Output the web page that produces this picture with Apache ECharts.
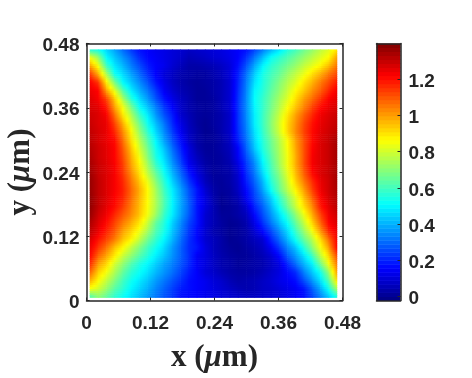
<!DOCTYPE html>
<html>
<head>
    <meta charset="utf-8">
    <title>ECharts</title>
    <script src="https://cdn.jsdelivr.net/npm/echarts@6/dist/echarts.min.js"></script>
    <style>html, body { margin: 0; background: #fff; }</style>
</head>
<body>
<div id="main" style="width: 472px;height:378px;"></div>
<script type="text/javascript">
    const xTicks = [0, 0.12, 0.24, 0.36, 0.48];
    const yTicks = [0, 0.12, 0.24, 0.36, 0.48];
    const barTicks = [0, 0.2, 0.4, 0.6, 0.8, 1, 1.2];
    const barMin = -0.025;
    const barMax = 1.4;
    const barLevels = 64;
    const jetStops = ['#000080', '#0000ff', '#0080ff', '#00ffff', '#80ff80', '#ffff00', '#ff8000', '#ff0000', '#800000'];
    // field, top row first, left to right
    const fieldMin = 0.006;
    const fieldMax = 0.469;
    const fieldRows = [
        [.55,.53,.45,.38,.30,.23,.17,.15,.13,.12,.10,.09,.07,.08,.09,.10,.11,.13,.15,.17,.24,.32,.40,.47,.55,.60,.66,.71,.77,.82,.90],
        [.85,.72,.51,.43,.36,.29,.21,.16,.14,.12,.10,.08,.05,.06,.07,.09,.10,.12,.15,.22,.32,.42,.52,.57,.62,.67,.72,.77,.82,.87,1.0],
        [1.0,.85,.60,.48,.41,.33,.26,.19,.15,.13,.09,.06,.03,.03,.04,.05,.07,.10,.17,.27,.39,.50,.57,.62,.67,.72,.78,.83,.88,.96,1.06],
        [1.15,.98,.75,.53,.46,.38,.30,.22,.15,.10,.07,.04,.03,.02,.02,.04,.06,.10,.19,.31,.44,.54,.60,.65,.72,.78,.84,.91,.98,1.06,1.13],
        [1.23,1.15,.89,.68,.51,.43,.35,.27,.18,.12,.07,.04,.02,.01,.02,.03,.05,.09,.20,.33,.47,.55,.62,.69,.76,.82,.90,.97,1.05,1.12,1.19],
        [1.25,1.22,1.0,.83,.63,.49,.40,.32,.23,.14,.09,.05,.03,.01,.01,.03,.05,.09,.21,.34,.50,.56,.64,.71,.79,.87,.94,1.02,1.09,1.17,1.24],
        [1.27,1.23,1.13,.94,.75,.57,.46,.37,.27,.18,.12,.07,.04,.01,.01,.02,.05,.09,.22,.35,.51,.58,.66,.74,.82,.91,1.0,1.07,1.15,1.225,1.26],
        [1.28,1.26,1.19,1.0,.85,.68,.52,.43,.33,.23,.15,.08,.04,.02,.01,.02,.05,.09,.22,.35,.50,.58,.67,.76,.86,.95,1.04,1.13,1.21,1.25,1.28],
        [1.29,1.27,1.23,1.07,.90,.76,.60,.49,.37,.27,.19,.09,.05,.02,.01,.02,.04,.08,.22,.35,.49,.59,.69,.79,.90,1.0,1.09,1.17,1.24,1.27,1.3],
        [1.3,1.27,1.25,1.13,.98,.82,.67,.53,.42,.32,.21,.12,.06,.02,0,.02,.04,.08,.22,.34,.49,.59,.70,.81,.92,1.02,1.12,1.2,1.25,1.28,1.31],
        [1.31,1.28,1.25,1.17,1.03,.88,.72,.58,.46,.35,.24,.14,.07,.03,0,.01,.04,.08,.21,.33,.47,.58,.69,.80,.92,1.03,1.13,1.21,1.26,1.29,1.32],
        [1.32,1.28,1.25,1.21,1.07,.91,.77,.63,.50,.38,.27,.17,.08,.03,.01,.01,.03,.07,.19,.31,.45,.56,.66,.76,.87,1.0,1.11,1.21,1.27,1.3,1.35],
        [1.33,1.29,1.26,1.22,1.1,.95,.81,.67,.53,.43,.31,.20,.11,.04,.01,.01,.03,.06,.15,.29,.43,.55,.65,.75,.86,.99,1.11,1.22,1.27,1.3,1.35],
        [1.34,1.29,1.26,1.22,1.12,.98,.85,.70,.55,.46,.34,.23,.12,.06,.02,.01,.02,.05,.14,.26,.38,.52,.63,.74,.85,.98,1.11,1.23,1.27,1.3,1.35],
        [1.35,1.3,1.27,1.23,1.14,1.0,.88,.74,.59,.49,.37,.26,.14,.08,.03,.01,.02,.04,.11,.23,.34,.49,.61,.73,.85,.98,1.11,1.23,1.27,1.3,1.35],
        [1.36,1.3,1.27,1.23,1.15,1.03,.91,.78,.65,.53,.41,.30,.19,.11,.05,.01,.02,.03,.09,.21,.32,.46,.59,.70,.83,.96,1.09,1.21,1.27,1.3,1.35],
        [1.37,1.31,1.27,1.23,1.17,1.06,.95,.84,.70,.57,.45,.34,.23,.14,.06,.02,.01,.03,.08,.19,.29,.41,.56,.67,.80,.93,1.05,1.16,1.25,1.29,1.35],
        [1.37,1.31,1.27,1.23,1.18,1.08,.98,.87,.74,.60,.49,.38,.27,.18,.09,.03,.01,.02,.07,.16,.26,.38,.52,.65,.77,.88,1.0,1.13,1.24,1.29,1.34],
        [1.38,1.31,1.27,1.22,1.17,1.07,.97,.87,.75,.62,.5,.39,.28,.18,.11,.04,0,.02,.05,.14,.24,.33,.44,.57,.70,.82,.95,1.08,1.215,1.28,1.33],
        [1.38,1.31,1.26,1.21,1.14,1.05,.96,.86,.75,.62,.5,.39,.29,.18,.11,.05,0,.01,.03,.09,.2,.29,.40,.53,.66,.79,.91,1.03,1.19,1.26,1.32],
        [1.37,1.29,1.24,1.17,1.1,1.03,.95,.85,.73,.59,.49,.38,.28,.18,.09,.05,.01,.01,.03,.06,.16,.26,.36,.47,.58,.71,.84,.98,1.13,1.24,1.29],
        [1.34,1.27,1.21,1.13,1.05,.98,.9,.79,.65,.56,.45,.35,.25,.18,.09,.05,.02,0,.01,.04,.12,.22,.32,.42,.52,.65,.78,.92,1.08,1.22,1.27],
        [1.32,1.25,1.18,1.1,1.0,.93,.85,.74,.62,.54,.43,.33,.23,.16,.09,.04,.02,0,.01,.03,.09,.16,.25,.35,.46,.59,.72,.85,1.01,1.17,1.25],
        [1.28,1.2,1.13,1.05,.95,.88,.78,.67,.58,.5,.41,.31,.22,.16,.09,.06,.03,0,.01,.03,.06,.09,.2,.3,.41,.53,.65,.76,.91,1.07,1.23],
        [1.25,1.15,1.06,.95,.87,.78,.69,.6,.53,.46,.37,.29,.21,.18,.11,.06,.03,.01,0,.02,.04,.07,.14,.23,.34,.43,.56,.7,.85,1.0,1.22],
        [1.22,1.08,.99,.89,.79,.71,.63,.56,.49,.43,.36,.29,.22,.14,.11,.07,.04,.02,.01,.01,.03,.05,.09,.16,.28,.37,.47,.59,.77,.92,1.12],
        [1.17,1.0,.92,.8,.71,.62,.55,.5,.44,.38,.33,.27,.21,.14,.11,.07,.04,.03,.01,.02,.03,.04,.07,.11,.2,.3,.4,.49,.66,.85,1.06],
        [1.08,.93,.85,.75,.65,.57,.52,.47,.41,.36,.31,.25,.19,.15,.1,.08,.05,.03,.02,.02,.03,.05,.08,.11,.16,.21,.33,.43,.53,.72,1.0],
        [.98,.87,.78,.69,.6,.53,.48,.43,.37,.32,.27,.22,.17,.15,.13,.1,.08,.05,.03,.04,.05,.07,.09,.12,.14,.17,.26,.36,.47,.63,.9],
        [.85,.8,.72,.63,.57,.5,.45,.4,.34,.29,.24,.19,.17,.15,.13,.11,.09,.07,.05,.04,.05,.07,.08,.1,.12,.14,.18,.28,.39,.53,.74],
        [.6,.7,.64,.57,.52,.47,.42,.37,.32,.27,.23,.17,.16,.15,.13,.12,.1,.09,.08,.07,.07,.08,.09,.1,.12,.14,.17,.24,.33,.43,.53]
    ];

    const myChart = echarts.init(document.getElementById('main'));
    const ink = '#262626';
    const labelFont = 'Liberation Sans';
    const titleFont = 'Liberation Serif';
    const stripsPerCell = 4;

    function jet(v) {
        const t = (v - barMin) / (barMax - barMin);
        return echarts.color.lerp(Math.max(0, Math.min(1, t)), jetStops);
    }

    const rowCount = fieldRows.length;
    const colCount = fieldRows[0].length;
    const xStep = (fieldMax - fieldMin) / (colCount - 1);
    const yStep = (fieldMax - fieldMin) / (rowCount - 1);

    // one cell between four neighbouring samples, shaded like shading interp
    const fieldData = [];
    for (let r = 0; r < rowCount - 1; r++) {
        for (let c = 0; c < colCount - 1; c++) {
            fieldData.push([
                fieldMin + c * xStep,
                fieldMin + (c + 1) * xStep,
                fieldMax - r * yStep,
                fieldMax - (r + 1) * yStep,
                fieldRows[r][c],
                fieldRows[r][c + 1],
                fieldRows[r + 1][c],
                fieldRows[r + 1][c + 1]
            ]);
        }
    }

    const barData = [];
    const barStep = (barMax - barMin) / barLevels;
    for (let i = 0; i < barLevels; i++) {
        barData.push([barMin + i * barStep, barMin + (i + 1) * barStep]);
    }

    function renderField(params, api) {
        const a = api.coord([api.value(0), api.value(2)]);
        const b = api.coord([api.value(1), api.value(3)]);
        const h = (b[1] - a[1]) / stripsPerCell;
        const children = [];
        for (let s = 0; s < stripsPerCell; s++) {
            const k = (s + 0.5) / stripsPerCell;
            const left = api.value(4) + (api.value(6) - api.value(4)) * k;
            const right = api.value(5) + (api.value(7) - api.value(5)) * k;
            children.push({
                type: 'rect',
                shape: {x: a[0], y: a[1] + s * h, width: b[0] - a[0] + 0.6, height: h + 0.6},
                style: {
                    fill: new echarts.graphic.LinearGradient(0, 0, 1, 0, [
                        {offset: 0, color: jet(left)},
                        {offset: 0.5, color: jet((left + right) / 2)},
                        {offset: 1, color: jet(right)}
                    ])
                }
            });
        }
        return {type: 'group', children: children};
    }

    function renderBar(params, api) {
        const a = api.coord([0, api.value(1)]);
        const b = api.coord([1, api.value(0)]);
        return {
            type: 'rect',
            shape: {x: a[0], y: a[1], width: b[0] - a[0], height: b[1] - a[1] + 0.5},
            style: {fill: jet((api.value(0) + api.value(1)) / 2)}
        };
    }

    const axisLine = {show: true, onZero: false, lineStyle: {color: ink, width: 1.5}};
    const innerTick = {show: true, inside: true, length: 3, lineStyle: {color: ink, width: 1}};
    const tickFont = {color: ink, fontFamily: labelFont, fontWeight: 'bold', fontSize: 19};
    // y labels sit a little below their ticks in the reference
    const tickLabel = {
        formatter: function (v) { return '{n|' + v + '}'; },
        rich: {n: Object.assign({padding: [5, 0, 0, 0]}, tickFont)}
    };
    const nameStyle = {
        rich: {
            t: {fontFamily: titleFont, fontWeight: 'bold', fontSize: 31, color: ink},
            mu: {fontFamily: titleFont, fontWeight: 'bold', fontStyle: 'italic', fontSize: 31, color: ink}
        }
    };

    function sideAxis(grid, position, min, max, ticks, extra) {
        return Object.assign({
            type: 'value', gridIndex: grid, position: position, min: min, max: max, z: 5,
            axisLine: axisLine,
            axisTick: Object.assign({customValues: ticks}, innerTick),
            axisLabel: {show: false},
            splitLine: {show: false}
        }, extra);
    }

    const option = {
        animation: false,
        backgroundColor: '#fff',
        grid: [
            {left: 86.5, top: 43.5, width: 256, height: 257, outerBoundsMode: 'none'},
            {left: 376.5, top: 43.5, width: 24, height: 257, outerBoundsMode: 'none'}
        ],
        xAxis: [
            sideAxis(0, 'bottom', 0, 0.48, xTicks, {
                axisLabel: Object.assign({customValues: xTicks, margin: 14}, tickFont),
                name: '{t|x (}{mu|μ}{t|m)}',
                nameLocation: 'middle',
                nameGap: 42,
                nameMoveOverlap: false,
                nameTextStyle: nameStyle
            }),
            sideAxis(0, 'top', 0, 0.48, xTicks),
            sideAxis(1, 'bottom', 0, 1, []),
            sideAxis(1, 'top', 0, 1, [])
        ],
        yAxis: [
            sideAxis(0, 'left', 0, 0.48, yTicks, {
                axisLabel: Object.assign({customValues: yTicks, margin: 7}, tickLabel),
                name: '{t|y (}{mu|μ}{t|m)}',
                nameLocation: 'middle',
                nameGap: 50,
                nameMoveOverlap: false,
                nameTextStyle: nameStyle
            }),
            sideAxis(0, 'right', 0, 0.48, yTicks),
            sideAxis(1, 'left', barMin, barMax, []),
            sideAxis(1, 'right', barMin, barMax, barTicks, {
                axisLabel: Object.assign({customValues: barTicks, margin: 8}, tickLabel)
            })
        ],
        series: [
            {type: 'custom', xAxisIndex: 0, yAxisIndex: 0, data: fieldData, renderItem: renderField, silent: true},
            {type: 'custom', xAxisIndex: 2, yAxisIndex: 2, data: barData, renderItem: renderBar, silent: true}
        ]
    };

    myChart.setOption(option);
</script>
</body>
</html>
